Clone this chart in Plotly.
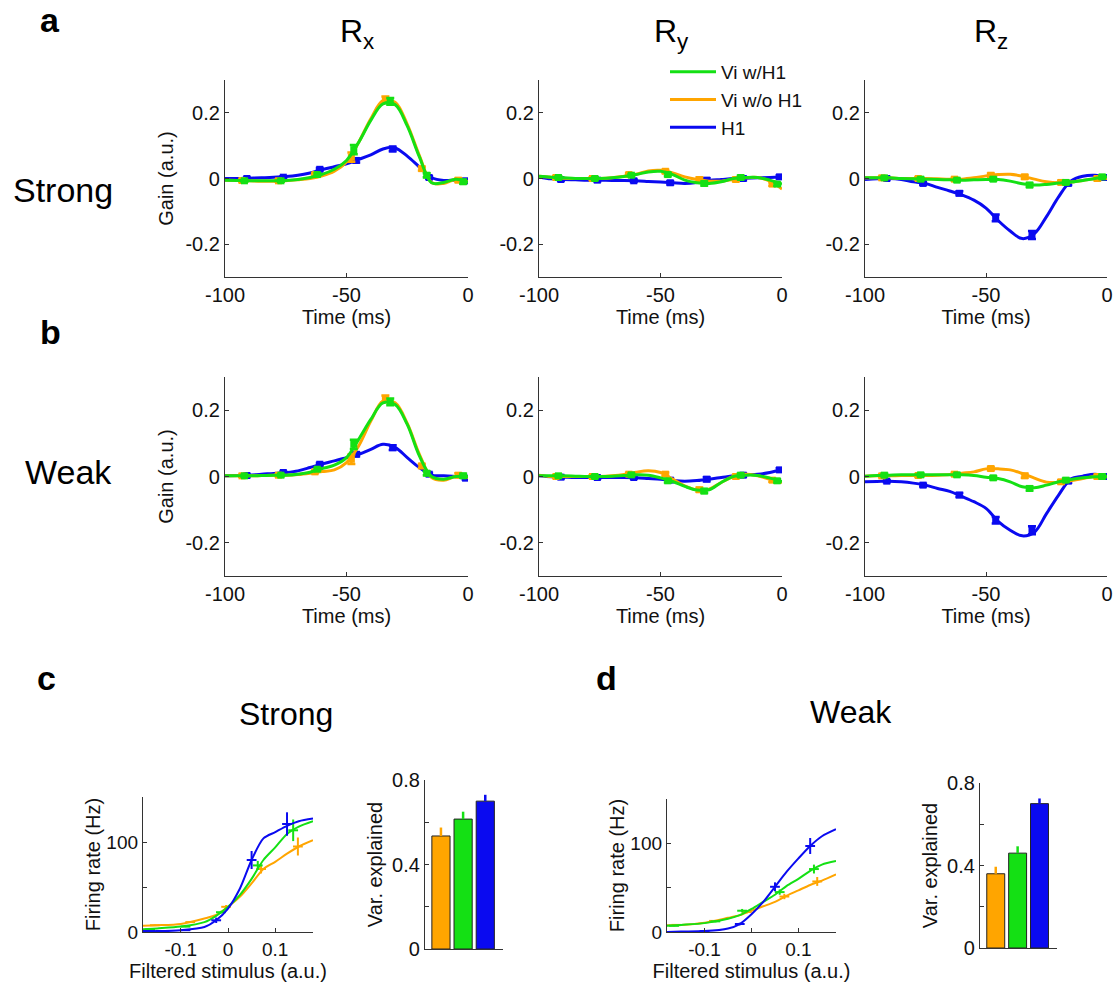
import plotly.graph_objects as go

W, H = 1115, 987
FONT = "Liberation Sans, Arial, sans-serif"
GREEN, ORANGE, BLUE = "#14e014", "#ffa500", "#0a0af0"
AXC = "#333333"

# ---------------- data: gain kernels (time in ms) ----------------
T_KNOTS = [-100, -95, -90, -85, -80, -75, -70, -65, -60, -55, -50,
           -45, -40, -35, -30, -25, -20, -15, -10, -5, 0]

# Strong (row a)
A_RX_GREEN = [-0.005, -0.006, -0.007, -0.007, -0.007, -0.006, -0.003, 0.003, 0.013, 0.028, 0.055,
              0.11, 0.177, 0.227, 0.225, 0.16, 0.066, -0.013, -0.012, -0.002, -0.012]
A_RX_ORANGE = [-0.005, -0.006, -0.007, -0.008, -0.008, -0.007, -0.004, 0.0, 0.008, 0.022, 0.05,
               0.11, 0.182, 0.237, 0.232, 0.165, 0.07, -0.012, -0.015, -0.003, -0.01]
A_RX_BLUE = [0.0, 0.0, 0.001, 0.002, 0.004, 0.006, 0.01, 0.017, 0.027, 0.036, 0.045,
             0.058, 0.072, 0.09, 0.093, 0.068, 0.035, 0.003, -0.006, -0.005, -0.007]

A_RY_GREEN = [0.007, 0.004, 0.002, 0.0, 0.0, 0.0, 0.002, 0.006, 0.012, 0.02, 0.022,
              0.012, -0.005, -0.013, -0.015, -0.01, 0.0, 0.003, 0.003, -0.005, -0.017]
A_RY_ORANGE = [0.007, 0.004, 0.001, 0.0, 0.0, 0.0, 0.002, 0.007, 0.013, 0.023, 0.025,
               0.017, 0.005, -0.003, -0.008, -0.008, -0.003, 0.002, 0.003, -0.008, -0.032]
A_RY_BLUE = [0.005, -0.001, -0.003, -0.004, -0.005, -0.005, -0.006, -0.006, -0.007, -0.009, -0.011,
             -0.013, -0.015, -0.012, -0.006, -0.003, 0.0, 0.001, 0.002, 0.003, 0.005]

A_RZ_GREEN = [0.002, 0.002, 0.002, 0.0, -0.001, -0.002, -0.003, -0.004, -0.005, -0.004, -0.003,
              -0.003, -0.008, -0.016, -0.02, -0.018, -0.014, -0.011, -0.006, 0.0, 0.005]
A_RZ_ORANGE = [0.002, 0.002, 0.002, 0.0, 0.0, 0.0, -0.001, -0.002, -0.002, 0.002, 0.008,
               0.012, 0.013, 0.007, -0.002, -0.01, -0.013, -0.011, -0.006, -0.001, 0.0]
A_RZ_BLUE = [-0.003, -0.001, 0.0, -0.003, -0.01, -0.015, -0.027, -0.038, -0.05, -0.066, -0.09,
             -0.128, -0.16, -0.183, -0.168, -0.116, -0.056, -0.008, 0.007, 0.01, 0.003]

# Weak (row b)
B_RX_GREEN = [0.002, 0.002, 0.002, 0.003, 0.004, 0.004, 0.007, 0.013, 0.024, 0.034, 0.057,
              0.112, 0.172, 0.222, 0.217, 0.157, 0.062, 0.0, -0.008, 0.0, 0.0]
B_RX_ORANGE = [0.002, 0.002, 0.002, 0.003, 0.004, 0.004, 0.006, 0.01, 0.015, 0.02, 0.042,
               0.092, 0.167, 0.227, 0.222, 0.16, 0.067, -0.003, -0.011, 0.0, -0.003]
B_RX_BLUE = [0.002, 0.003, 0.004, 0.007, 0.009, 0.012, 0.017, 0.027, 0.038, 0.047, 0.057,
             0.067, 0.082, 0.097, 0.088, 0.057, 0.027, 0.004, 0.002, 0.0, -0.005]

B_RY_GREEN = [0.002, 0.002, 0.002, 0.001, 0.0, 0.0, 0.001, 0.003, 0.005, 0.004, -0.004,
              -0.015, -0.03, -0.041, -0.04, -0.018, 0.0, 0.004, 0.003, -0.005, -0.015]
B_RY_ORANGE = [0.004, 0.0, 0.0, 0.0, 0.0, 0.0, 0.002, 0.006, 0.013, 0.017, 0.012,
               -0.008, -0.028, -0.04, -0.038, -0.018, 0.0, 0.007, 0.002, -0.008, -0.018]
B_RY_BLUE = [0.002, -0.001, -0.002, -0.003, -0.003, -0.003, -0.003, -0.003, -0.004, -0.006, -0.008,
             -0.012, -0.014, -0.012, -0.008, -0.003, 0.002, 0.005, 0.007, 0.012, 0.022]

B_RZ_GREEN = [0.001, 0.003, 0.004, 0.005, 0.005, 0.005, 0.005, 0.005, 0.005, 0.003, -0.002,
              -0.006, -0.016, -0.031, -0.034, -0.026, -0.016, -0.009, -0.004, -0.001, 0.0]
B_RZ_ORANGE = [0.001, 0.002, 0.002, 0.003, 0.003, 0.003, 0.004, 0.006, 0.01, 0.014, 0.023,
               0.023, 0.02, 0.009, -0.005, -0.017, -0.018, -0.013, -0.006, 0.0, -0.001]
B_RZ_BLUE = [-0.016, -0.015, -0.014, -0.016, -0.02, -0.026, -0.036, -0.045, -0.06, -0.076, -0.096,
             -0.135, -0.162, -0.179, -0.168, -0.112, -0.056, -0.008, 0.001, 0.007, 0.0]

# sample points with error bars
MK_T_GREEN = [-92, -77, -62, -47, -32, -17, -2]
MK_T_ORANGE = [-93, -78, -63, -48, -34, -19, -4]
MK_T_BLUE = [-91, -76, -61, -46, -31, -16, -1]

A_RX_GREEN_MK = [-0.007, -0.007, 0.012, 0.088, 0.235, 0.01, -0.01]
A_RX_ORANGE_MK = [-0.006, -0.007, 0.012, 0.065, 0.24, 0.03, -0.005]
A_RX_BLUE_MK = [0.0, 0.004, 0.028, 0.055, 0.09, 0.003, -0.007]
A_RY_GREEN_MK = [0.003, 0.0, 0.01, 0.012, -0.015, 0.003, -0.017]
A_RY_ORANGE_MK = [0.003, 0.0, 0.012, 0.022, -0.003, -0.003, -0.017]
A_RY_BLUE_MK = [-0.003, -0.005, -0.007, -0.013, -0.005, 0.0, 0.005]
A_RZ_GREEN_MK = [0.002, -0.002, -0.005, -0.002, -0.02, -0.012, 0.005]
A_RZ_ORANGE_MK = [0.002, 0.0, -0.002, 0.01, 0.005, -0.012, 0.0]
A_RZ_BLUE_MK = [0.0, -0.015, -0.045, -0.12, -0.172, -0.015, 0.003]

B_RX_GREEN_MK = [0.002, 0.004, 0.022, 0.097, 0.225, 0.01, 0.002]
B_RX_ORANGE_MK = [0.002, 0.004, 0.014, 0.052, 0.234, 0.032, 0.004]
B_RX_BLUE_MK = [0.003, 0.012, 0.037, 0.067, 0.087, 0.007, -0.005]
B_RY_GREEN_MK = [0.002, 0.0, 0.005, -0.013, -0.044, 0.004, -0.013]
B_RY_ORANGE_MK = [0.0, 0.0, 0.007, 0.007, -0.04, 0.0, -0.011]
B_RY_BLUE_MK = [-0.002, -0.003, -0.003, -0.011, -0.008, 0.004, 0.02]
B_RZ_GREEN_MK = [0.004, 0.005, 0.005, -0.004, -0.036, -0.011, 0.0]
B_RZ_ORANGE_MK = [0.002, 0.003, 0.007, 0.024, 0.002, -0.016, 0.0]
B_RZ_BLUE_MK = [-0.014, -0.026, -0.056, -0.132, -0.162, -0.014, 0.0]

ERR_SMALL = [0.004, 0.004, 0.004, 0.005, 0.006, 0.005, 0.005]
ERR_RX_VI = [0.003, 0.003, 0.004, 0.014, 0.01, 0.006, 0.006]
ERR_RX_H1 = [0.003, 0.003, 0.004, 0.006, 0.007, 0.004, 0.004]
ERR_RZ_H1 = [0.003, 0.004, 0.006, 0.01, 0.012, 0.005, 0.004]

# ---------------- data: nonlinearities ----------------
S_KNOTS = [-0.18, -0.15, -0.1, -0.05, -0.025, 0, 0.025, 0.05, 0.075, 0.1, 0.125, 0.15, 0.18]
C_BLUE = [1, 1, 2, 5.5, 13, 26, 48, 80, 104, 111, 118, 123, 126]
C_GREEN = [3, 4, 6, 11, 18, 28, 41, 59, 80, 94, 109, 117, 123]
C_ORANGE = [7, 7.5, 9, 15, 19, 28, 39, 54, 70, 78, 87, 95, 102]
C_BLUE_MX = [-0.165, -0.09, -0.025, 0.05, 0.125]
C_BLUE_MY = [1, 2, 13, 80, 120]
C_BLUE_ME = [0.5, 0.5, 3, 10, 13]
C_GREEN_MX = [-0.165, -0.09, -0.015, 0.063, 0.138]
C_GREEN_MY = [3, 6, 22, 74, 113]
C_GREEN_ME = [0.5, 0.7, 1.5, 5, 12]
C_ORANGE_MX = [-0.155, -0.08, -0.004, 0.07, 0.148]
C_ORANGE_MY = [7.5, 11, 28, 70, 95]
C_ORANGE_ME = [0.7, 1, 2, 5, 10]

D_BLUE = [0, 0.5, 1, 4, 9, 20, 34, 51, 68, 83, 97, 108, 116]
D_GREEN = [7, 8, 10, 15, 19, 26, 34, 42, 52, 60, 69, 76, 80]
D_ORANGE = [7.5, 8, 10.5, 16, 19, 24, 29, 34, 41, 47, 53, 58, 65]
D_BLUE_MX = [-0.165, -0.1, -0.025, 0.05, 0.125]
D_BLUE_MY = [0, 1, 9, 51, 97]
D_BLUE_ME = [0.3, 0.3, 1.5, 5, 9]
D_GREEN_MX = [-0.165, -0.077, -0.02, 0.06, 0.133]
D_GREEN_MY = [7, 12, 24, 45, 71]
D_GREEN_ME = [0.5, 1, 2, 3, 5]
D_ORANGE_MX = [-0.16, -0.08, -0.01, 0.07, 0.14]
D_ORANGE_MY = [8, 12.5, 22.6, 40, 57]
D_ORANGE_ME = [0.5, 1, 1.5, 3, 5]

# ---------------- data: variance explained ----------------
BAR_CATS = [1, 2, 3]  # Vi w/o H1, Vi w/H1, H1
C_VAR = [0.535, 0.615, 0.70]
C_VAR_ERR = [0.04, 0.035, 0.03]
D_VAR = [0.36, 0.46, 0.70]
D_VAR_ERR = [0.034, 0.033, 0.025]

LEGEND_NAMES = ["Vi w/H1", "Vi w/o H1", "H1"]

# ---------------- figure ----------------
fig = go.Figure()


def px_x(p):
    return p / W


def px_y(p):
    return 1 - p / H


layout = {}


def add_axes(idx, xdom, ydom, xr, yr, xtv, xtt, ytv, ytt, xtitle=None, ytitle=None,
             tick_size=20, title_size=20, xstand=4, ystand=6, xticks=True, yminor=None):
    xs = "xaxis" if idx == 1 else f"xaxis{idx}"
    ys = "yaxis" if idx == 1 else f"yaxis{idx}"
    common = dict(showline=True, linecolor=AXC, linewidth=1.3, showgrid=False, zeroline=False,
                  ticks="inside", ticklen=4, tickcolor=AXC, tickwidth=1, automargin=False,
                  tickfont=dict(size=tick_size, color="#111", family=FONT))
    layout[xs] = dict(domain=xdom, anchor=f"y{idx}" if idx > 1 else "y", range=xr,
                      tickvals=xtv, ticktext=xtt, **common)
    if not xticks:
        layout[xs]["ticks"] = ""
        layout[xs]["showticklabels"] = False
    if xtitle:
        layout[xs]["title"] = dict(text=xtitle, font=dict(size=title_size, color="#111", family=FONT),
                                   standoff=xstand)
    layout[ys] = dict(domain=ydom, anchor=f"x{idx}" if idx > 1 else "x", range=yr,
                      tickvals=ytv, ticktext=ytt, **common)
    if yminor:
        layout[ys]["minor"] = dict(tickmode="array", tickvals=yminor, ticks="inside", ticklen=4,
                                   tickcolor=AXC, tickwidth=1, showgrid=False)
    if ytitle:
        layout[ys]["title"] = dict(text=ytitle, font=dict(size=title_size, color="#111", family=FONT),
                                   standoff=ystand)


ROW_Y = [(80, 277), (377, 576)]
COL_X = [(225, 468), (539, 782), (865, 1107)]

panels = [
    [(A_RX_BLUE, A_RX_ORANGE, A_RX_GREEN, A_RX_BLUE_MK, A_RX_ORANGE_MK, A_RX_GREEN_MK, ERR_RX_H1, ERR_RX_VI),
     (A_RY_BLUE, A_RY_ORANGE, A_RY_GREEN, A_RY_BLUE_MK, A_RY_ORANGE_MK, A_RY_GREEN_MK, ERR_SMALL, ERR_SMALL),
     (A_RZ_BLUE, A_RZ_ORANGE, A_RZ_GREEN, A_RZ_BLUE_MK, A_RZ_ORANGE_MK, A_RZ_GREEN_MK, ERR_RZ_H1, ERR_SMALL)],
    [(B_RX_BLUE, B_RX_ORANGE, B_RX_GREEN, B_RX_BLUE_MK, B_RX_ORANGE_MK, B_RX_GREEN_MK, ERR_RX_H1, ERR_RX_VI),
     (B_RY_BLUE, B_RY_ORANGE, B_RY_GREEN, B_RY_BLUE_MK, B_RY_ORANGE_MK, B_RY_GREEN_MK, ERR_SMALL, ERR_SMALL),
     (B_RZ_BLUE, B_RZ_ORANGE, B_RZ_GREEN, B_RZ_BLUE_MK, B_RZ_ORANGE_MK, B_RZ_GREEN_MK, ERR_RZ_H1, ERR_SMALL)],
]

idx = 0
for r in range(2):
    for c in range(3):
        idx += 1
        y0, y1 = ROW_Y[r]
        x0, x1 = COL_X[c]
        add_axes(idx, [px_x(x0), px_x(x1)], [px_y(y1), px_y(y0)], [-100, 0], [-0.3, 0.3],
                 [-100, -50, 0], ["-100", "-50", "0"], [-0.2, 0, 0.2], ["-0.2", "0", "0.2"],
                 xtitle="Time (ms)", ytitle="Gain (a.u.)" if c == 0 else None)
        xa = "x" if idx == 1 else f"x{idx}"
        ya = "y" if idx == 1 else f"y{idx}"
        bl, orr, gr, blm, orm, grm, err_h1, err_vi = panels[r][c]
        for vals, mk, mkt, col, err in [(bl, blm, MK_T_BLUE, BLUE, err_h1),
                                         (orr, orm, MK_T_ORANGE, ORANGE, err_vi),
                                         (gr, grm, MK_T_GREEN, GREEN, err_vi)]:
            fig.add_trace(go.Scatter(x=T_KNOTS, y=vals, mode="lines", xaxis=xa, yaxis=ya,
                                     line=dict(color=col, width=3, shape="spline", smoothing=1.0),
                                     showlegend=False, hoverinfo="skip"))
            fig.add_trace(go.Scatter(x=mkt, y=mk, mode="markers", xaxis=xa, yaxis=ya,
                                     marker=dict(symbol="square", size=7, color=col),
                                     error_y=dict(type="data", array=err, color=col, thickness=2.5, width=4),
                                     showlegend=False, hoverinfo="skip"))

# legend entries (drawn in Ry strong panel area)
for name, col, rank in [("H1", BLUE, 3), ("Vi w/o H1", ORANGE, 2), ("Vi w/H1", GREEN, 1)]:
    fig.add_trace(go.Scatter(x=[None], y=[None], mode="lines", name=name, legendrank=rank,
                             line=dict(color=col, width=3), xaxis="x2", yaxis="y2"))

# nonlinearity panels
NL = [
    (7, (143, 313), (797, 932), S_KNOTS, C_BLUE, C_GREEN, C_ORANGE,
     (C_BLUE_MX, C_BLUE_MY, C_BLUE_ME), (C_GREEN_MX, C_GREEN_MY, C_GREEN_ME),
     (C_ORANGE_MX, C_ORANGE_MY, C_ORANGE_ME)),
    (9, (667, 836), (799, 932), S_KNOTS, D_BLUE, D_GREEN, D_ORANGE,
     (D_BLUE_MX, D_BLUE_MY, D_BLUE_ME), (D_GREEN_MX, D_GREEN_MY, D_GREEN_ME),
     (D_ORANGE_MX, D_ORANGE_MY, D_ORANGE_ME)),
]
for (i, (x0, x1), (y0, y1), sx, b, g, o, bm, gm, om) in NL:
    add_axes(i, [px_x(x0), px_x(x1)], [px_y(y1), px_y(y0)], [-0.18, 0.18], [0, 150],
             [-0.1, 0, 0.1], ["-0.1", "0", "0.1"], [0, 100], ["0", "100"],
             xtitle="Filtered stimulus (a.u.)", ytitle="Firing rate (Hz)", tick_size=19,
             ystand=0, xstand=2, yminor=[50, 150])
    xa, ya = f"x{i}", f"y{i}"
    for vals, (mx, my, me), col in [(o, om, ORANGE), (g, gm, GREEN), (b, bm, BLUE)]:
        fig.add_trace(go.Scatter(x=sx, y=vals, mode="lines", xaxis=xa, yaxis=ya,
                                 line=dict(color=col, width=2, shape="spline", smoothing=0.8),
                                 showlegend=False, hoverinfo="skip"))
        fig.add_trace(go.Scatter(x=mx, y=my, mode="markers", xaxis=xa, yaxis=ya,
                                 marker=dict(symbol="line-ew", size=7, color=col,
                                             line=dict(color=col, width=2)),
                                 error_y=dict(type="data", array=me, color=col, thickness=2, width=0),
                                 showlegend=False, hoverinfo="skip"))

# bar panels
BARS = [(8, (425, 503), (780, 949), C_VAR, C_VAR_ERR), (10, (980, 1057), (783, 948), D_VAR, D_VAR_ERR)]
for (i, (x0, x1), (y0, y1), vals, errs) in BARS:
    add_axes(i, [px_x(x0), px_x(x1)], [px_y(y1), px_y(y0)], [0.28, 3.8], [0, 0.8],
             [], [], [0, 0.4, 0.8], ["0", "0.4", "0.8"],
             ytitle="Var. explained", tick_size=20, xticks=False, ystand=4, yminor=[0.2, 0.6])
    for k, col in enumerate([ORANGE, GREEN, BLUE]):
        fig.add_trace(go.Bar(x=[BAR_CATS[k]], y=[vals[k]], xaxis=f"x{i}", yaxis=f"y{i}",
                             marker=dict(color=col, line=dict(color="#222", width=1)),
                             width=0.82,
                             error_y=dict(type="data", symmetric=False, array=[errs[k]], arrayminus=[0],
                                          color=col, thickness=2.5, width=0),
                             showlegend=False, hoverinfo="skip"))

# text annotations
ann = []


def text(s, x, y, size, bold=False, xanchor="center"):
    ann.append(dict(text=f"<b>{s}</b>" if bold else s, x=px_x(x), y=px_y(y), xref="paper", yref="paper",
                    showarrow=False, xanchor=xanchor, yanchor="middle",
                    font=dict(size=size, color="#000", family=FONT)))


text("a", 38, 20, 34, bold=True, xanchor="left")
text("b", 38, 332, 34, bold=True, xanchor="left")
text("c", 35, 678, 34, bold=True, xanchor="left")
text("d", 594, 678, 34, bold=True, xanchor="left")
text("R<sub>x</sub>", 357, 33, 32)
text("R<sub>y</sub>", 671, 33, 32)
text("R<sub>z</sub>", 991, 33, 32)
text("Strong", 63, 190, 34)
text("Weak", 68, 472, 34)
text("Strong", 286, 714, 32)
text("Weak", 851, 712, 32)

fig.update_layout(
    width=W, height=H,
    margin=dict(l=0, r=0, t=0, b=0, autoexpand=False),
    paper_bgcolor="white", plot_bgcolor="white",
    font=dict(family=FONT, color="#111"),
    annotations=ann,
    showlegend=True,
    legend=dict(x=px_x(665), y=px_y(53), xanchor="left", yanchor="top",
                bgcolor="rgba(0,0,0,0)", font=dict(size=19, family=FONT, color="#111"),
                tracegroupgap=0, itemwidth=46),
    barmode="overlay",
    **layout,
)

fig.write_html("out.html", config={"displayModeBar": False},
               post_script="document.body.style.margin='0px';")
